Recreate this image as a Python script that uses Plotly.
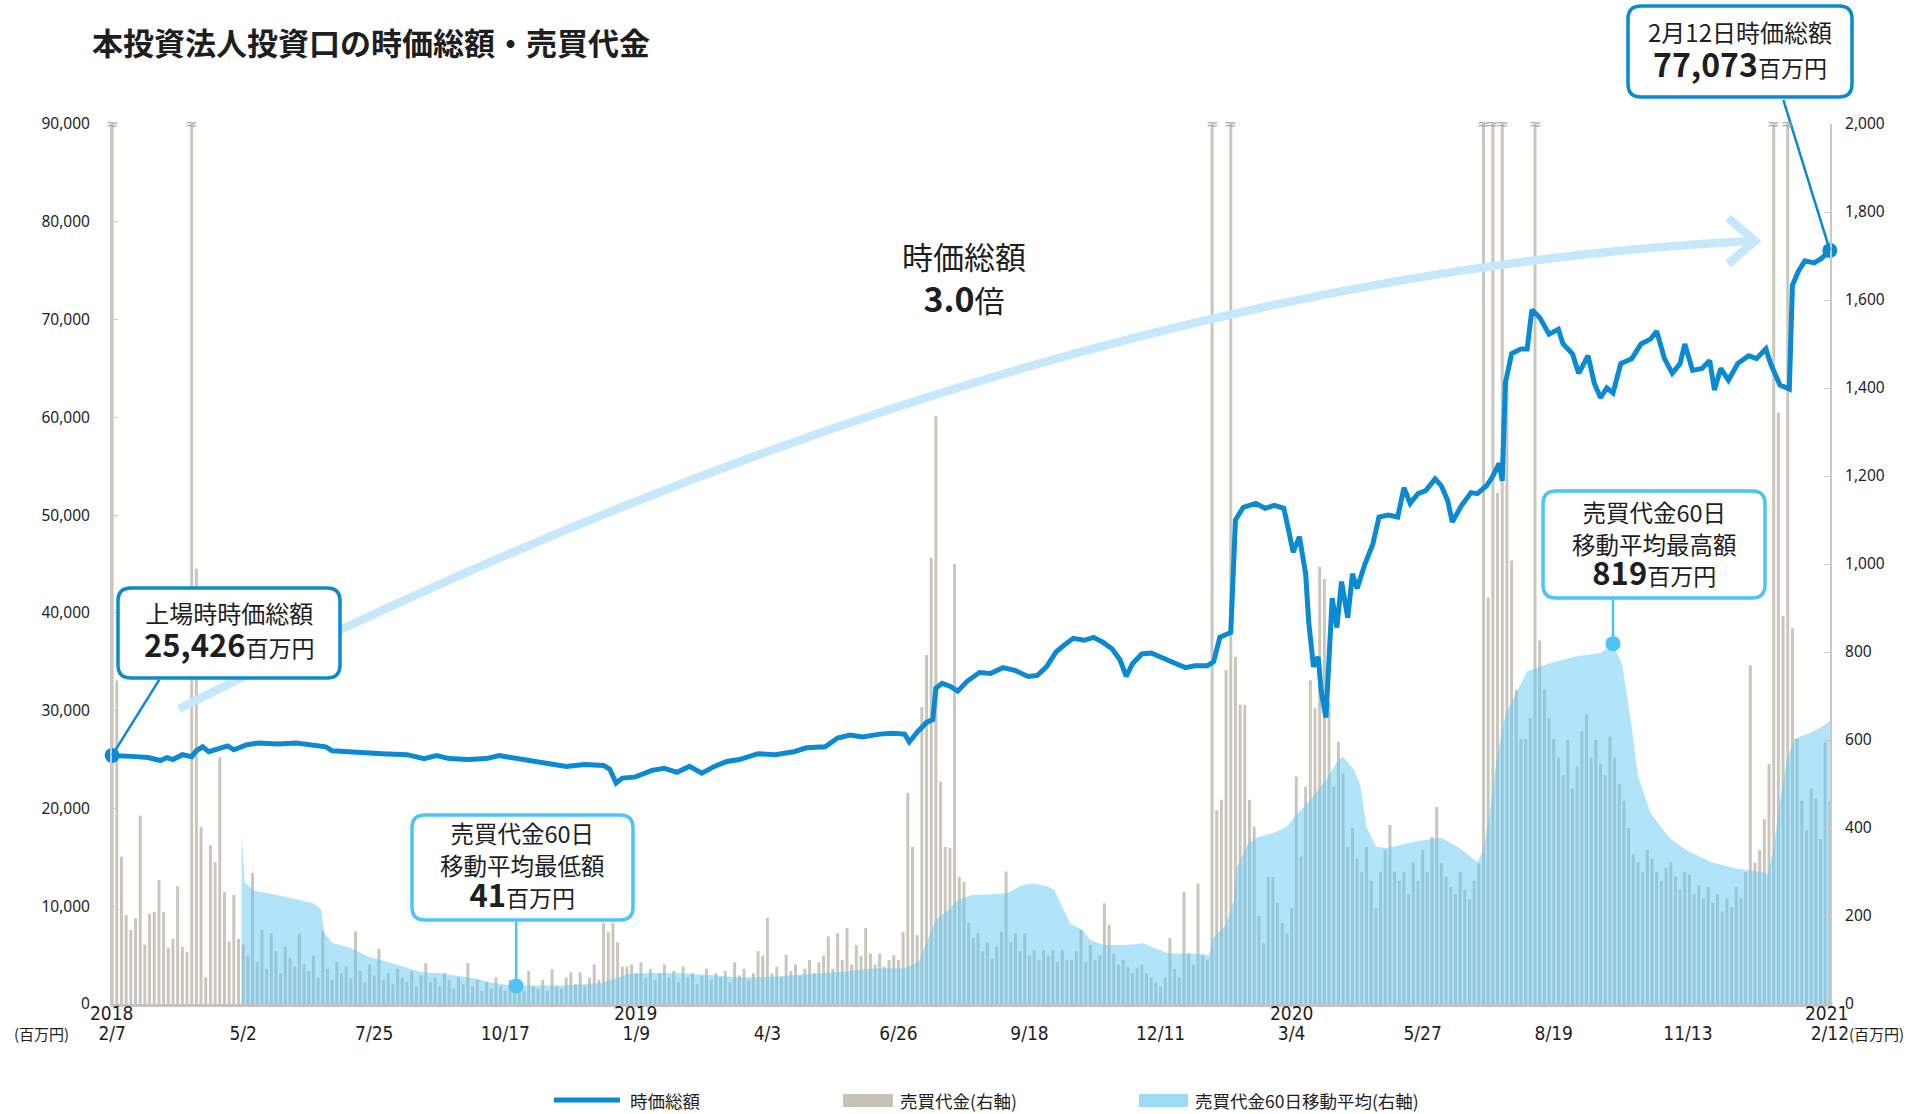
import pandas as pd
import plotly.graph_objects as go

# ---------------- data ----------------
LISTING = pd.Timestamp("2018-02-07")

# 時価総額（百万円） : days since listing / value
cap_days = [0, 7, 15, 23, 31, 35, 39, 45, 51, 54,
            58, 62, 69, 74, 78, 86, 94, 106, 118, 129,
            137, 141, 157, 173, 189, 200, 208, 216, 228, 240,
            248, 260, 271, 283, 291, 303, 315, 319, 323, 327,
            335, 346, 354, 362, 370, 378, 386, 394, 402, 414,
            425, 437, 445, 457, 465, 473, 481, 492, 500, 508,
            511, 516, 522, 526, 528, 532, 537, 542, 548, 556,
            563, 571, 579, 587, 593, 599, 605, 611, 616, 623,
            629, 635, 641, 646, 650, 654, 660, 666, 674, 682,
            688, 694, 702, 706, 710, 715, 717, 720, 725, 733,
            739, 745, 751, 754, 757, 761, 765, 767, 770, 773,
            775, 778, 782, 785, 788, 792, 795, 798, 803, 808,
            812, 818, 824, 828, 832, 837, 842, 848, 852, 856,
            859, 865, 871, 875, 881, 885, 889, 891, 893, 897,
            903, 907, 910, 915, 921, 927, 930, 936, 940, 946,
            950, 954, 958, 962, 967, 974, 980, 986, 990, 995,
            1000, 1005, 1008, 1013, 1019, 1024, 1027, 1031, 1036, 1042,
            1049, 1054, 1060, 1063, 1069, 1075, 1077, 1081, 1085, 1091,
            1096, 1101]
cap_values = [25426, 25400, 25300, 25200, 24900, 25200, 25000, 25500, 25300, 25900,
              26300, 25800, 26200, 26400, 26000, 26500, 26700, 26600, 26700, 26500,
              26300, 25900, 25700, 25600, 25500, 25100, 25400, 25100, 25000, 25100,
              25400, 25100, 24800, 24600, 24300, 24500, 24400, 24000, 22600, 23100,
              23200, 23900, 24100, 23700, 24300, 23600, 24300, 24800, 25000, 25600,
              25500, 25800, 26200, 26300, 27200, 27500, 27300, 27600, 27700, 27600,
              26800, 27800, 28800, 29100, 32300, 32800, 32500, 32000, 33000, 33900,
              33800, 34400, 34100, 33500, 33600, 34500, 36000, 36800, 37400, 37200,
              37500, 37000, 36300, 35200, 33500, 34800, 35800, 35900, 35300, 34800,
              34400, 34600, 34600, 35000, 37500, 37900, 38000, 49500, 50800, 51200,
              50700, 51000, 50700, 48500, 46200, 47800, 44000, 39000, 34500, 35500,
              32000, 29300, 41500, 38500, 43200, 39500, 44000, 42500, 45000, 47000,
              49800, 50000, 49800, 52800, 51200, 52200, 52500, 53700, 53000, 51500,
              49300, 51000, 52300, 52200, 53000, 54000, 55300, 53500, 63500, 66500,
              67000, 67000, 71000, 70200, 68500, 69000, 67500, 66500, 64500, 66300,
              63500, 62000, 63000, 62500, 65500, 66000, 67500, 68000, 68800, 66000,
              64500, 65500, 67500, 64800, 65000, 65800, 62800, 65000, 63800, 65500,
              66300, 66000, 67000, 65500, 63300, 62900, 73500, 75000, 76000, 75800,
              76300, 77073]

# 売買代金60日移動平均（百万円） : days since listing / value
ma_days = [83, 85, 91, 111, 129, 134, 136, 141, 153, 164,
           176, 187, 198, 210, 221, 233, 244, 256, 259, 267,
           290, 313, 324, 331, 347, 364, 383, 403, 422, 441,
           467, 489, 508, 517, 521, 528, 535, 542, 551, 563,
           574, 583, 590, 599, 604, 608, 614, 622, 627, 636,
           650, 661, 668, 677, 695, 703, 706, 714, 719, 721,
           728, 735, 744, 753, 758, 768, 778, 786, 789, 796,
           800, 804, 810, 817, 825, 836, 852, 863, 875, 879,
           883, 887, 893, 899, 907, 923, 938, 954, 962, 968,
           974, 978, 986, 998, 1009, 1025, 1041, 1057, 1061, 1065,
           1069, 1073, 1078, 1088, 1096, 1101]
ma_values = [386, 276, 258, 244, 229, 215, 161, 139, 127, 108,
             96, 85, 73, 70, 64, 58, 48, 43, 41, 42,
             42, 47, 59, 68, 71, 70, 66, 60, 62, 66,
             73, 81, 81, 96, 130, 191, 210, 236, 248, 249,
             252, 270, 274, 268, 259, 229, 183, 168, 145, 134,
             134, 138, 127, 115, 115, 111, 150, 180, 236, 312,
             365, 380, 388, 403, 426, 464, 509, 555, 562, 532,
             498, 403, 358, 354, 361, 370, 378, 356, 322, 350,
             434, 546, 658, 700, 756, 776, 790, 798, 819, 770,
             630, 518, 434, 378, 350, 322, 308, 300, 294, 350,
             462, 546, 602, 616, 630, 644]

# 売買代金（百万円） : one value every 3 days from listing
VOL_STEP_DAYS = 3
vol_values = [2500, 735, 335, 202, 168, 195, 428, 135, 205, 209,
              282, 209, 128, 148, 268, 130, 119, 2500, 989, 402,
              61, 361, 322, 561, 255, 142, 248, 148, 135, 110,
              298, 95, 168, 80, 161, 120, 70, 130, 105, 85,
              160, 90, 75, 110, 60, 165, 80, 55, 95, 70,
              85, 60, 165, 75, 50, 90, 65, 126, 55, 70,
              45, 80, 60, 50, 75, 40, 65, 93, 50, 60,
              40, 70, 55, 35, 60, 45, 93, 40, 55, 30,
              50, 35, 60, 40, 30, 55, 35, 45, 30, 75,
              40, 35, 55, 30, 79, 40, 35, 60, 72, 45,
              72, 40, 60, 90, 55, 184, 164, 184, 140, 85,
              85, 90, 70, 95, 60, 80, 55, 70, 90, 60,
              75, 50, 85, 60, 70, 45, 65, 80, 55, 70,
              60, 75, 50, 95, 65, 80, 55, 70, 120, 110,
              196, 70, 85, 60, 112, 75, 90, 65, 80, 100,
              70, 95, 110, 154, 80, 161, 100, 173, 90, 134,
              110, 173, 115, 90, 115, 85, 100, 111, 100, 164,
              480, 357, 157, 675, 793, 1014, 1336, 505, 357, 355,
              1000, 289, 278, 184, 150, 161, 120, 140, 104, 130,
              164, 301, 140, 161, 120, 161, 110, 123, 100, 123,
              110, 123, 95, 123, 100, 100, 120, 168, 95, 134,
              100, 110, 229, 180, 115, 90, 100, 85, 70, 81,
              90, 70, 60, 50, 39, 60, 150, 80, 60, 255,
              115, 90, 274, 111, 100, 2500, 441, 464, 759, 2500,
              789, 680, 680, 464, 403, 200, 138, 289, 289, 230,
              184, 160, 218, 517, 335, 494, 736, 672, 994, 966,
              686, 494, 596, 524, 357, 400, 330, 300, 357, 280,
              218, 300, 350, 407, 301, 280, 300, 250, 322, 280,
              350, 300, 380, 448, 320, 290, 266, 250, 300, 260,
              238, 280, 320, 2500, 924, 2500, 1162, 2500, 1414, 1008,
              714, 602, 602, 650, 2500, 826, 714, 650, 602, 560,
              520, 600, 490, 540, 620, 658, 560, 600, 546, 520,
              608, 560, 500, 462, 400, 340, 322, 300, 350, 330,
              300, 280, 310, 322, 290, 260, 300, 294, 250, 270,
              240, 266, 230, 250, 210, 240, 220, 266, 240, 300,
              770, 322, 350, 420, 546, 2500, 1344, 882, 2500, 854,
              602, 462, 395, 490, 468, 375, 595, 461]

tick_dates = ["2018-02-07", "2018-05-02", "2018-07-25", "2018-10-17", "2019-01-09",
              "2019-04-03", "2019-06-26", "2019-09-18", "2019-12-11", "2020-03-04",
              "2020-05-27", "2020-08-19", "2020-11-13", "2021-02-12"]
tick_labels = ["2/7", "5/2", "7/25", "10/17", "1/9", "4/3", "6/26", "9/18",
               "12/11", "3/4", "5/27", "8/19", "11/13", "2/12"]
year_labels = ["2018", "2019", "2020", "2021"]
year_dates = ["2018-02-07", "2019-01-09", "2020-03-04", "2021-02-10"]

CAP_MAX = 90000
VOL_MAX = 2000

assert len(cap_days) == len(cap_values)
assert len(ma_days) == len(ma_values)

cap_dates = [LISTING + pd.Timedelta(days=d) for d in cap_days]
ma_dates = [LISTING + pd.Timedelta(days=d) for d in ma_days]
vol_dates = pd.date_range(LISTING, periods=len(vol_values), freq=f"{VOL_STEP_DAYS}D")

# ---------------- style ----------------
W, H = 1931, 1114
ML, MR, MT, MB = 112, 101, 124, 110
PW, PH = W - ML - MR, H - MT - MB

LINE = "#0a8ad2"
DARK = "#0a8ad2"
LIGHT = "#4cc4f7"
GRAY = "#c9c6bc"
MA_FILL = "rgba(100,200,243,0.5)"
ARROW = "#c6e8fa"
TXT = "#1e1e1e"
JP = "Noto Sans CJK JP"
NARROW = "Liberation Sans Narrow, DejaVu Sans Condensed, Roboto Condensed, Roboto, Noto Sans, sans-serif"


def paper(xp, yp):
    return (xp - ML) / PW, (H - MB - yp) / PH


def path_from(cmds):
    out = []
    for c in cmds:
        op, coords = c[0], c[1:]
        pts = []
        for i in range(0, len(coords), 2):
            a, b = paper(coords[i], coords[i + 1])
            pts.append(f"{a:.5f},{b:.5f}")
        out.append(op + " " + " ".join(pts))
    return " ".join(out)


def rounded_box(x0, y0, x1, y1, r=13):
    return path_from([("M", x0 + r, y0), ("L", x1 - r, y0), ("Q", x1, y0, x1, y0 + r),
                      ("L", x1, y1 - r), ("Q", x1, y1, x1 - r, y1), ("L", x0 + r, y1),
                      ("Q", x0, y1, x0, y1 - r), ("L", x0, y0 + r), ("Q", x0, y0, x0 + r, y0)]) + " Z"


fig = go.Figure()

fig.add_trace(go.Bar(x=vol_dates, y=vol_values, yaxis="y", name="売買代金(右軸)",
                     width=1.9 * 86400000, marker=dict(color=GRAY, line=dict(width=0))))
fig.add_trace(go.Scatter(x=ma_dates, y=ma_values, yaxis="y", mode="lines", fill="tozeroy",
                         fillcolor=MA_FILL, line=dict(width=0, color=MA_FILL),
                         name="売買代金60日移動平均(右軸)"))

i_min = ma_values.index(min(ma_values))
i_max = ma_values.index(max(ma_values))
fig.add_trace(go.Scatter(x=[ma_dates[i_min], ma_dates[i_max]], y=[ma_values[i_min], ma_values[i_max]],
                         yaxis="y", mode="markers", cliponaxis=False,
                         marker=dict(size=15, color=LIGHT)))

fig.add_trace(go.Scatter(x=cap_dates, y=cap_values, yaxis="y2", mode="lines", name="時価総額",
                         line=dict(color=LINE, width=5)))
fig.add_trace(go.Scatter(x=[cap_dates[0], cap_dates[-1]], y=[cap_values[0], cap_values[-1]],
                         yaxis="y2", mode="markers", cliponaxis=False,
                         marker=dict(size=15, color=LINE)))

axis_common = dict(showgrid=False, zeroline=False, showline=True, linecolor="#c8c8c8",
                   linewidth=2, ticks="inside", ticklen=6, tickwidth=1, tickcolor="#c8c8c8",
                   tickformat=",", tickfont=dict(family="Noto Sans", size=15.5, color=TXT))

fig.update_layout(
    width=W, height=H, margin=dict(l=ML, r=MR, t=MT, b=MB, pad=0),
    paper_bgcolor="white", plot_bgcolor="white", showlegend=False, hovermode=False,
    font=dict(family=JP, color=TXT),
    xaxis=dict(type="date", range=[pd.Timestamp(tick_dates[0]) - pd.Timedelta(hours=2),
                                   pd.Timestamp(tick_dates[-1]) + pd.Timedelta(hours=2)],
               tickvals=tick_dates, ticktext=tick_labels, showgrid=False, zeroline=False,
               showline=True, linecolor="#c3c3c3", linewidth=3, ticks="",
               tickfont=dict(family=NARROW, size=19, color=TXT), ticklabelstandoff=10),
    yaxis=dict(side="right", range=[0, VOL_MAX], tickvals=list(range(0, VOL_MAX + 1, 200)),
               ticklabelstandoff=10, **axis_common),
    yaxis2=dict(side="left", overlaying="y", range=[0, CAP_MAX],
                tickvals=list(range(0, CAP_MAX + 1, 10000)), ticklabelstandoff=17, **axis_common),
)

shapes = []
ann = []

# big curved arrow
shapes.append(dict(type="path", xref="paper", yref="paper", layer="above",
                   path=path_from([("M", 179, 709), ("Q", 1027, 277, 1752, 241)]),
                   line=dict(color=ARROW, width=8.5)))
shapes.append(dict(type="path", xref="paper", yref="paper", layer="above",
                   path=path_from([("M", 1728, 218), ("L", 1755, 241), ("L", 1728, 264)]),
                   line=dict(color=ARROW, width=8.5)))

# callout boxes
shapes.append(dict(type="path", xref="paper", yref="paper", layer="above",
                   path=rounded_box(1628, 6, 1852, 97), fillcolor="white",
                   line=dict(color=DARK, width=3.5)))
shapes.append(dict(type="path", xref="paper", yref="paper", layer="above",
                   path=rounded_box(118, 588, 340, 678), fillcolor="white",
                   line=dict(color=DARK, width=3.5)))
shapes.append(dict(type="path", xref="paper", yref="paper", layer="above",
                   path=rounded_box(412, 815, 633, 920), fillcolor="white",
                   line=dict(color=LIGHT, width=3.5)))
shapes.append(dict(type="path", xref="paper", yref="paper", layer="above",
                   path=rounded_box(1543, 491, 1765, 598), fillcolor="white",
                   line=dict(color=LIGHT, width=3.5)))


def text(xp, yp, s, size, anchor="center", family=JP, color=TXT):
    x, y = paper(xp, yp)
    ann.append(dict(x=x, y=y, xref="paper", yref="paper", text=s, showarrow=False,
                    xanchor=anchor, yanchor="middle",
                    font=dict(family=family, size=size, color=color)))


def sp(s, size, bold=False):
    inner = f"<span style='font-size:{size}px'>{s}</span>"
    return f"<b>{inner}</b>" if bold else inner


def leader(x, y, yref, ax, ay, color):
    ann.append(dict(x=x, y=y, xref="x", yref=yref, text="", showarrow=True, arrowhead=0,
                    arrowwidth=2.5, arrowcolor=color, ax=ax, ay=ay, standoff=0, startstandoff=0))


# title
text(90, 41, "<b>本投資法人投資口の時価総額・売買代金</b>", 31, anchor="left")

# callout texts (multi-line, base size sets the line pitch)
text(1740, 50, sp("2月12日時価総額", 24) + "<br>" + sp(f"{cap_values[-1]:,}", 32, True)
     + sp("百万円", 23), 27)
text(229, 630, sp("上場時時価総額", 24) + "<br>" + sp(f"{cap_values[0]:,}", 31, True)
     + sp("百万円", 23), 26.5)
text(522, 866, sp("売買代金60日", 23.5) + "<br>" + sp("移動平均最低額", 23.5) + "<br>"
     + sp(f"{min(ma_values)}", 31, True) + sp("百万円", 23), 24.5)
text(1654, 544, sp("売買代金60日", 23.5) + "<br>" + sp("移動平均最高額", 23.5) + "<br>"
     + sp(f"{max(ma_values)}", 31, True) + sp("百万円", 23), 24.3)
ratio = cap_values[-1] / cap_values[0]
text(964, 277, sp("時価総額", 31) + "<br>" + sp(f"{ratio:.1f}", 34, True) + sp("倍", 30), 33)

# leader lines to the data points
leader(cap_dates[-1], cap_values[-1], "y2", -47, -152, DARK)
leader(cap_dates[0], cap_values[0], "y2", 48, -77, DARK)
leader(ma_dates[i_min], ma_values[i_min], "y", 0, -66, LIGHT)
leader(ma_dates[i_max], ma_values[i_max], "y", 0, -46, LIGHT)

# axis-break marks on bars that exceed the right axis
for d, v in zip(vol_dates, vol_values):
    if v > VOL_MAX:
        ann.append(dict(x=d, y=VOL_MAX, xref="x", yref="y", text="≈", showarrow=False,
                        yanchor="middle", font=dict(family="DejaVu Sans", size=15, color="#a8a8a8")))

# year labels above the date labels
for lab, d in zip(year_labels, year_dates):
    _, yy = paper(0, 1013)
    ann.append(dict(x=d, y=yy, xref="x", yref="paper", text=lab, showarrow=False,
                    xanchor="center", yanchor="middle",
                    font=dict(family=NARROW, size=19, color=TXT)))

# unit labels
text(41, 1033, "(百万円)", 15)
text(1876, 1033, "(百万円)", 15)

# custom legend
lx0, ly = paper(554, 1100)
lx1, _ = paper(620, 1100)
shapes.append(dict(type="line", xref="paper", yref="paper", x0=lx0, x1=lx1, y0=ly, y1=ly,
                   line=dict(color=LINE, width=5)))
gx0, gy0 = paper(843, 1094)
gx1, gy1 = paper(893, 1107)
shapes.append(dict(type="rect", xref="paper", yref="paper", x0=gx0, x1=gx1, y0=gy0, y1=gy1,
                   fillcolor="#c5c2b8", line=dict(width=0)))
bx0, by0 = paper(1139, 1094)
bx1, by1 = paper(1188, 1107)
shapes.append(dict(type="rect", xref="paper", yref="paper", x0=bx0, x1=bx1, y0=by0, y1=by1,
                   fillcolor="#9cdaf6", line=dict(width=0)))
text(628, 1100, "時価総額", 17.5, anchor="left")
text(898, 1100, "売買代金(右軸)", 17.5, anchor="left")
text(1193, 1100, "売買代金60日移動平均(右軸)", 17.5, anchor="left")

fig.update_layout(shapes=shapes, annotations=ann)
fig.write_html("out.html")
